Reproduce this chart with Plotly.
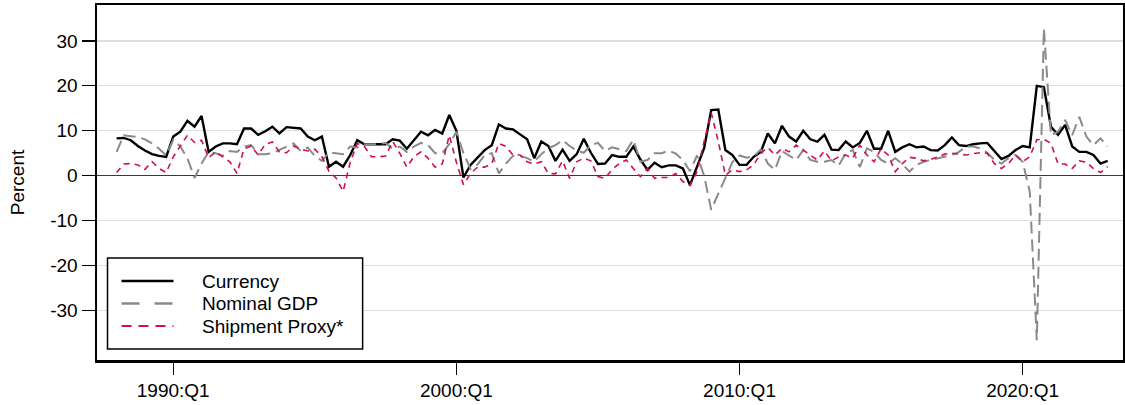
import pandas as pd
import plotly.graph_objects as go

start_quarter = "1988Q1"
tick_years = [1990, 2000, 2010, 2020]
tick_labels = ["1990:Q1", "2000:Q1", "2010:Q1", "2020:Q1"]
y_ticks = [-30, -20, -10, 0, 10, 20, 30]
y_tick_labels = ["-30", "-20", "-10", "0", "10", "20", "30"]
series_names = ["Currency", "Nominal GDP", "Shipment Proxy*"]

currency = [
    8.3, 8.4, 7.9, 6.6, 5.6, 4.8, 4.4, 4.2, 8.7, 9.8,
    12.2, 10.9, 13.3, 5.3, 6.5, 7.2, 7.2, 7.0, 10.5, 10.5,
    9.1, 9.9, 10.9, 9.4, 10.8, 10.7, 10.5, 8.7, 7.9, 8.7,
    2.0, 3.1, 2.0, 4.6, 7.9, 7.0, 7.0, 7.0, 7.0, 8.1,
    7.8, 6.0, 7.8, 9.8, 9.0, 10.2, 9.4, 13.5, 10.0, -0.4,
    2.4, 4.0, 5.7, 6.8, 11.4, 10.5, 10.3, 9.2, 8.1, 3.9,
    7.6, 6.6, 3.3, 5.8, 3.3, 4.8, 8.2, 5.1, 2.6, 2.7,
    4.6, 4.2, 4.2, 6.5, 3.6, 1.3, 2.9, 1.9, 2.3, 2.3,
    1.6, -2.1, 2.2, 6.1, 14.6, 14.7, 5.7, 4.6, 2.4, 2.4,
    4.2, 5.3, 9.4, 7.2, 11.1, 8.7, 7.6, 10.0, 8.1, 7.6,
    9.1, 5.8, 5.7, 7.6, 6.3, 7.3, 10.0, 6.0, 6.0, 10.0,
    5.3, 6.3, 7.0, 6.3, 6.5, 5.7, 5.6, 6.8, 8.5, 6.8,
    6.6, 7.0, 7.2, 7.3, 5.5, 3.7, 4.4, 5.7, 6.6, 6.3,
    20.0, 19.7, 10.9, 9.1, 11.3, 6.5, 5.3, 5.3, 4.6, 2.7,
    3.3,
]

nominal_gdp = [
    5.3, 9.0, 8.8, 8.6, 8.1, 7.2, 6.0, 4.5, 8.0, 6.5,
    3.9, -0.5, 2.7, 5.3, 5.0, 4.4, 5.5, 5.3, 6.5, 6.8,
    4.8, 4.8, 5.0, 5.7, 6.5, 7.2, 5.5, 6.3, 4.4, 3.3,
    5.2, 5.0, 4.8, 6.5, 6.3, 7.0, 7.0, 7.0, 7.3, 6.0,
    6.5, 5.3, 6.5, 7.3, 6.8, 5.0, 5.0, 7.0, 9.8, 5.0,
    1.5, 2.5, 4.6, 5.0, 0.5, 2.7, 4.4, 4.4, 3.9, 3.1,
    4.8, 6.1, 6.8, 7.9, 6.6, 5.6, 5.1, 6.8, 7.3, 5.5,
    6.3, 5.9, 5.5, 8.0, 3.1, 3.5, 5.0, 5.0, 5.6, 4.9,
    3.5, 1.0, 4.5, 0.0, -7.6, -4.0, -0.5, 3.0, 4.5, 4.0,
    4.3, 5.8, 2.7, 1.3, 5.5, 4.5, 3.5, 5.7, 3.5, 3.1,
    3.1, 3.5, 2.2, 5.0, 5.7, 1.9, 6.1, 5.3, 3.5, 2.7,
    3.9, 2.6, 0.9, 2.4, 3.1, 3.5, 3.9, 4.2, 4.6, 5.3,
    6.5, 6.5, 6.1, 5.1, 3.5, 2.7, 3.9, 4.6, 3.1, -3.5,
    -36.6, 32.8, 9.0, 9.8, 12.4, 9.0, 13.1, 8.7, 6.8, 8.3,
    6.5,
]

shipment_proxy = [
    0.7, 2.6, 2.7, 2.4, 1.4, 3.1, 1.6, 0.7, 4.2, 6.6,
    9.0, 7.4, 7.9, 4.0, 5.3, 4.2, 3.1, 0.5, 6.0, 6.6,
    4.6, 7.0, 7.5, 5.3, 5.1, 6.6, 5.9, 5.5, 5.9, 4.2,
    1.0, -0.5, -3.5, 3.0, 7.2, 6.5, 4.2, 4.2, 4.4, 7.6,
    5.0, 1.9, 4.2, 5.3, 3.9, 1.9, 2.6, 9.0, 3.0, -2.0,
    0.5, 1.9, 1.9, 2.7, 7.2, 6.5, 4.6, 4.6, 3.1, 2.6,
    3.1, 0.5, 0.4, 3.3, -0.6, 3.1, 3.9, 3.3, -0.2, -0.6,
    1.4, 2.7, 3.5, 1.6, -0.2, 1.6, -0.6, -0.4, -0.4, 0.5,
    -1.3, -2.2, 0.9, 7.6, 14.0, 7.6, 0.1, 1.3, 0.9, 1.3,
    2.4, 5.0, 6.3, 4.6, 6.1, 5.3, 6.8, 5.7, 4.6, 3.5,
    5.5, 3.3, 4.2, 4.6, 3.9, 6.8, 4.6, 3.1, 6.0, 4.6,
    0.9, 2.7, 4.1, 3.9, 3.3, 3.6, 4.2, 4.8, 5.0, 4.8,
    4.6, 4.9, 5.1, 5.0, 2.7, 1.6, 2.7, 4.6, 3.1, 4.2,
    8.0, 8.1, 7.2, 2.6, 2.6, 1.6, 3.3, 3.0, 1.6, 0.7,
    2.0,
]

periods = pd.period_range(start_quarter, periods=len(currency), freq="Q")
x = [p.year + (p.quarter - 1) / 4 for p in periods]
labels = [f"{p.year}:Q{p.quarter}" for p in periods]

FONT = "Liberation Sans, Arial, sans-serif"
styles = [
    dict(color="#000000", width=2.4, dash="solid"),
    dict(color="#8a8a8a", width=2, dash="12px,6px"),
    dict(color="#d0104c", width=1.6, dash="6px,5px"),
]
legend_dash = ["solid", "18px,15px", "10px,7px"]

fig = go.Figure()
for name, ys, st in zip(series_names, [currency, nominal_gdp, shipment_proxy], styles):
    fig.add_trace(go.Scatter(
        x=x, y=ys, mode="lines", name=name, text=labels,
        line=st, showlegend=False,
    ))

# Legend box (drawn in paper coordinates of the plot area)
L, R, T, B = 97.5, 1123.0, 5.0, 360.0
def px(xp):
    return (xp - L) / (R - L)
def py(yp):
    return (B - yp) / (B - T)

fig.add_shape(type="rect", xref="paper", yref="paper",
              x0=px(108), x1=px(363), y0=py(349), y1=py(258),
              line=dict(color="#000", width=1.5), fillcolor="white", layer="above")
for k, (name, st) in enumerate(zip(series_names, styles)):
    yy = py(281 + 22.5 * k)
    fig.add_shape(type="line", xref="paper", yref="paper",
                  x0=px(122), x1=px(174), y0=yy, y1=yy, layer="above",
                  line=dict(color=st["color"], width=st["width"] + 0.3, dash=legend_dash[k]))
    fig.add_annotation(xref="paper", yref="paper", x=px(200), y=yy,
                       xanchor="left", yanchor="middle", showarrow=False,
                       text=name, font=dict(family=FONT, size=19, color="#000"))

fig.update_layout(
    width=1125, height=405,
    margin=dict(l=97, r=2, t=5, b=45),
    paper_bgcolor="white", plot_bgcolor="white",
    font=dict(family=FONT, size=19, color="#000"),
    showlegend=False,
)
fig.update_xaxes(
    range=[1987.307, 2023.544], automargin=False,
    tickmode="array", tickvals=tick_years, ticktext=tick_labels,
    ticks="outside", ticklen=12, tickwidth=1.2, tickcolor="#000",
    showgrid=False, zeroline=False,
    showline=True, linecolor="#000", linewidth=2.5, mirror=True,
    tickfont=dict(family=FONT, size=19),
)
fig.update_yaxes(
    range=[-41.02, 37.99], automargin=False,
    tickmode="array", tickvals=y_ticks, ticktext=y_tick_labels,
    ticks="outside", ticklen=13, tickwidth=1.2, tickcolor="#000",
    showgrid=True, gridcolor="#dedede", gridwidth=1.2,
    zeroline=True, zerolinecolor="#3a3a3a", zerolinewidth=1.5,
    showline=True, linecolor="#000", linewidth=2.5, mirror=True,
    title=dict(text="Percent", font=dict(family=FONT, size=19), standoff=21),
    tickfont=dict(family=FONT, size=19),
)

fig.write_html(
    "out.html",
    config={"displayModeBar": False, "staticPlot": True},
    post_script="document.body.style.margin='0';document.body.style.padding='0';",
)
